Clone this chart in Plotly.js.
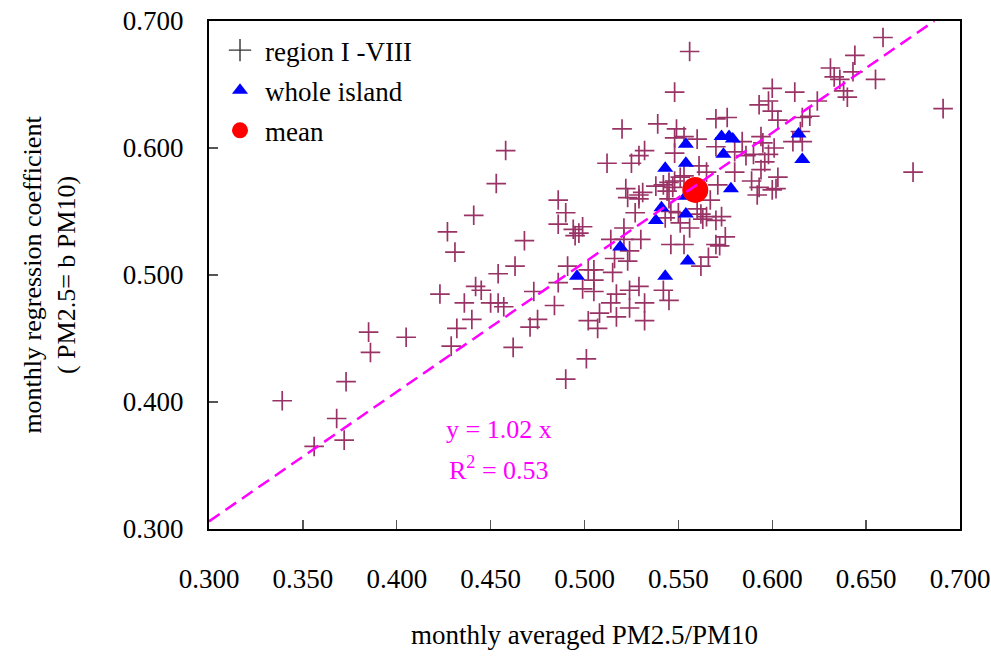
<!DOCTYPE html>
<html>
<head>
<meta charset="utf-8">
<script src="https://cdn.plot.ly/plotly-3.0.1.min.js"></script>
<style>html,body{margin:0;padding:0;background:#fff;}#chart{width:991px;height:657px;}</style>
</head>
<body>
<div id="chart"></div>
<script>
// region I - VIII (monthly values)
const regionX = [0.339,0.356,0.368,0.372,0.373,0.385,0.386,0.405,0.423,0.431,0.429,0.432,0.436,0.440,0.442,0.445,0.450,0.454,0.457,0.454,
0.463,0.462,0.473,0.471,0.475,0.484,0.486,0.491,0.490,0.499,0.501,0.502,0.502,0.505,0.505,0.505,0.508,0.507,
0.458,0.453,0.441,0.427,0.468,0.486,0.490,0.486,0.494,0.499,0.495,0.497,
0.556,0.548,0.520,0.539,0.549,0.548,0.553,0.560,0.570,0.576,0.570,0.548,0.532,0.529,0.512,0.525,
0.522,0.529,0.531,0.529,0.523,0.538,0.542,0.545,0.548,0.544,0.547,0.551,0.545,0.561,0.565,0.571,0.567,
0.527,0.543,0.546,0.550,0.551,0.556,0.560,0.562,0.563,0.565,0.570,0.573,
0.521,0.521,0.514,0.530,0.524,0.516,0.523,0.546,0.553,0.570,0.572,0.575,0.566,0.562,
0.515,0.524,0.529,0.517,0.514,0.532,0.524,0.542,0.545,0.517,0.532,0.553,
0.659,0.644,0.631,0.633,0.636,0.643,0.655,0.638,0.640,0.600,0.612,0.598,0.593,0.600,0.603,0.624,0.620,0.616,
0.594,0.595,0.601,0.611,0.616,0.615,0.584,0.580,0.586,0.590,0.598,0.596,0.594,0.580,0.603,0.589,0.593,0.600,0.602,0.592,
0.691,0.675];
const regionY = [0.401,0.365,0.387,0.370,0.416,0.455,0.439,0.451,0.485,0.518,0.444,0.458,0.478,0.465,0.491,0.488,0.478,0.478,0.475,0.501,
0.507,0.443,0.487,0.459,0.465,0.476,0.494,0.507,0.418,0.489,0.434,0.464,0.504,0.504,0.496,0.487,0.470,0.458,
0.598,0.572,0.547,0.534,0.527,0.559,0.549,0.540,0.536,0.538,0.531,0.533,
0.676,0.644,0.615,0.619,0.615,0.608,0.609,0.607,0.623,0.624,0.601,0.596,0.598,0.594,0.588,0.588,
0.568,0.563,0.565,0.560,0.561,0.570,0.571,0.573,0.574,0.566,0.569,0.577,0.560,0.586,0.581,0.571,0.559,
0.549,0.545,0.550,0.549,0.541,0.537,0.552,0.548,0.544,0.546,0.543,0.546,
0.537,0.528,0.528,0.528,0.519,0.513,0.511,0.524,0.524,0.524,0.523,0.530,0.514,0.507,
0.502,0.488,0.491,0.485,0.478,0.478,0.474,0.488,0.480,0.467,0.464,0.578,
0.687,0.673,0.663,0.656,0.654,0.660,0.654,0.645,0.640,0.647,0.644,0.637,0.634,0.629,0.622,0.637,0.625,0.624,
0.609,0.604,0.600,0.605,0.605,0.613,0.605,0.597,0.594,0.595,0.595,0.589,0.583,0.581,0.577,0.574,0.569,0.567,0.568,0.563,
0.631,0.581];

// whole island (monthly values)
const islandX = [0.496,0.543,0.519,0.555,0.541,0.538,0.554,0.543,0.554,0.554,0.573,0.579,0.574,0.578,0.614,0.616,0.577,0.554];
const islandY = [0.499,0.499,0.522,0.511,0.553,0.543,0.548,0.584,0.603,0.588,0.609,0.607,0.595,0.568,0.611,0.591,0.609,0.562];

// mean
const meanX = [0.559];
const meanY = [0.567];

// regression line y = 1.02 x
const fitX = [0.300, 0.6863];
const fitY = [0.306, 0.700];

const serif = 'Times New Roman, Liberation Serif, serif';

const traces = [
  {x: regionX, y: regionY, type: 'scatter', mode: 'markers', showlegend: false,
   marker: {symbol: 'cross-thin-open', size: 14, color: '#993366', line: {width: 1.7, color: '#993366'}},
   hoverinfo: 'x+y'},
  {x: [null], y: [null], type: 'scatter', mode: 'markers', name: 'region I -VIII', legendgroup: 'a',
   marker: {symbol: 'cross-thin-open', size: 16, color: '#333333', line: {width: 1.4, color: '#333333'}}},
  {x: islandX, y: islandY, type: 'scatter', mode: 'markers', name: 'whole island', legendgroup: 'b',
   marker: {symbol: 'triangle-up', size: 14, color: '#0000ff'}},
  {x: meanX, y: meanY, type: 'scatter', mode: 'markers', name: 'mean', legendgroup: 'c',
   marker: {symbol: 'circle', size: 26, color: '#ff0000'}},
  {x: fitX, y: fitY, type: 'scatter', mode: 'lines', showlegend: false,
   line: {color: '#ff00ff', width: 2.5, dash: '13px,7px'}, hoverinfo: 'skip'}
];

const layout = {
  width: 991, height: 657,
  margin: {l: 209, r: 31, t: 21, b: 128},
  paper_bgcolor: '#ffffff', plot_bgcolor: '#ffffff',
  font: {family: serif, size: 27, color: '#000'},
  showlegend: true,
  legend: {x: 0.008, y: 0.99, xanchor: 'left', yanchor: 'top', bgcolor: 'rgba(0,0,0,0)',
           font: {family: serif, size: 27, color: '#000'}, traceorder: 'grouped', tracegroupgap: 2,
           itemsizing: 'trace', itemwidth: 40},
  xaxis: {range: [0.3, 0.7], dtick: 0.05, tick0: 0.3, tickformat: '.3f', ticks: 'inside', ticklen: 9,
          tickcolor: '#555', tickwidth: 1.3, showline: true, linecolor: '#000', linewidth: 2, mirror: true,
          showgrid: false, zeroline: false, ticklabelstandoff: 25,
          tickfont: {family: serif, size: 27, color: '#000'},
          title: {text: 'monthly averaged PM2.5/PM10', font: {family: serif, size: 27, color: '#000'}, standoff: 32}},
  yaxis: {range: [0.3, 0.7], dtick: 0.1, tick0: 0.3, tickformat: '.3f', ticks: 'inside', ticklen: 9,
          tickcolor: '#555', tickwidth: 1.3, showline: true, linecolor: '#000', linewidth: 2, mirror: true,
          showgrid: false, zeroline: false, ticklabelstandoff: 18,
          tickfont: {family: serif, size: 27, color: '#000'},
          title: {text: 'monthly regression coefficient<br>( PM2.5= b PM10)', font: {family: serif, size: 26, color: '#000'}, standoff: 40}},
  annotations: [
    {xref: 'paper', yref: 'paper', x: 0.386, y: 0.195, xanchor: 'center', yanchor: 'middle', showarrow: false,
     text: 'y = 1.02 x', font: {family: serif, size: 26, color: '#ff00ff'}},
    {xref: 'paper', yref: 'paper', x: 0.386, y: 0.12, xanchor: 'center', yanchor: 'middle', showarrow: false,
     text: 'R<sup>2</sup> = 0.53', font: {family: serif, size: 26, color: '#ff00ff'}}
  ]
};

Plotly.newPlot('chart', traces, layout, {staticPlot: true, displayModeBar: false});
</script>
</body>
</html>
